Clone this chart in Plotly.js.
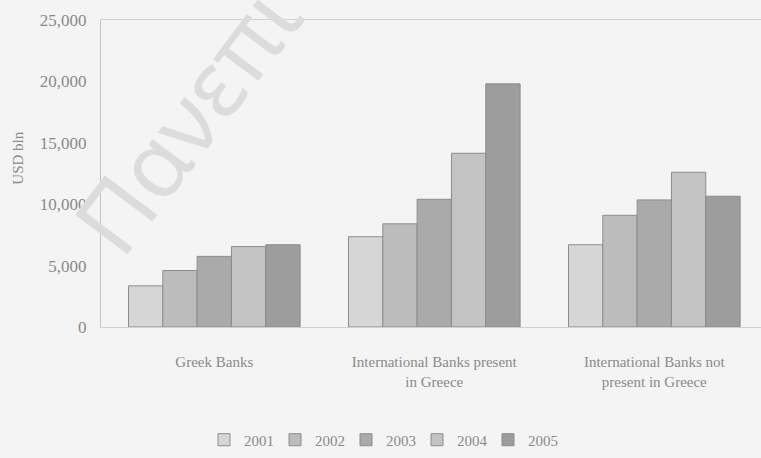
<!DOCTYPE html>
<html>
<head>
<meta charset="utf-8">
<script src="https://cdn.plot.ly/plotly-3.0.1.min.js"></script>
<style>
  html, body { margin: 0; padding: 0; background: #f4f4f4; }
  #chart { width: 761px; height: 458px; }
</style>
</head>
<body>
<div id="chart"></div>
<script>
// Bank groups on the x axis
const categories = [
  'Greek Banks',
  'International Banks present<br>in Greece',
  'International Banks not<br>present in Greece'
];

// One series per year, USD bln
const years = ['2001', '2002', '2003', '2004', '2005'];
const v2001 = [3350, 7350, 6700];
const v2002 = [4600, 8400, 9100];
const v2003 = [5750, 10400, 10350];
const v2004 = [6550, 14150, 12600];
const v2005 = [6700, 19800, 10650];
const seriesValues = [v2001, v2002, v2003, v2004, v2005];

const fills = ['#d6d6d6', '#bcbcbc', '#aaaaaa', '#c3c3c3', '#9d9d9d'];
const textColor = '#8a8a8a';
const serif = 'Liberation Serif';

const traces = years.map((yr, i) => ({
  type: 'bar',
  name: yr,
  x: categories,
  y: seriesValues[i],
  marker: { color: fills[i], line: { color: '#8c8c8c', width: 1 } },
  hoverinfo: 'skip'
}));

const layout = {
  width: 761,
  height: 458,
  margin: { l: 101, r: 0, t: 20, b: 131 },
  paper_bgcolor: '#f4f4f4',
  plot_bgcolor: '#f4f4f4',
  barmode: 'group',
  bargap: 0.22,
  bargroupgap: 0,
  showlegend: true,
  font: { family: serif, color: textColor, size: 14 },
  xaxis: {
    range: [-0.515, 2.485],
    showgrid: false,
    zeroline: false,
    showline: true,
    mirror: true,
    linecolor: '#d0d0d0',
    linewidth: 1,
    ticks: '',
    ticklabelstandoff: 21,
    tickfont: { family: serif, size: 15, color: textColor }
  },
  yaxis: {
    range: [0, 25000],
    dtick: 5000,
    tickformat: ',d',
    showgrid: false,
    zeroline: false,
    showline: true,
    linecolor: '#c4c4c4',
    linewidth: 1,
    ticks: '',
    ticklabelstandoff: 10,
    tickfont: { family: serif, size: 17, color: textColor }
  },
  legend: {
    orientation: 'h',
    x: 0.425,
    xanchor: 'center',
    y: -0.368,
    yanchor: 'middle',
    entrywidth: 26,
    bgcolor: 'rgba(0,0,0,0)',
    font: { family: serif, size: 15, color: textColor }
  },
  annotations: [
    {
      text: 'USD bln',
      xref: 'paper', yref: 'paper',
      x: -0.125, y: 0.55,
      xanchor: 'center', yanchor: 'middle',
      textangle: -90,
      showarrow: false,
      font: { family: serif, size: 15, color: textColor }
    },
    {
      // faint diagonal watermark
      text: 'Πανεπι',
      xref: 'paper', yref: 'paper',
      x: 0.128, y: 0.68,
      xanchor: 'center', yanchor: 'middle',
      textangle: -53,
      showarrow: false,
      font: { family: 'Noto Sans', size: 92, color: '#dcdcdc' }
    }
  ]
};

Plotly.newPlot('chart', traces, layout, { displayModeBar: false, staticPlot: true });
</script>
</body>
</html>
